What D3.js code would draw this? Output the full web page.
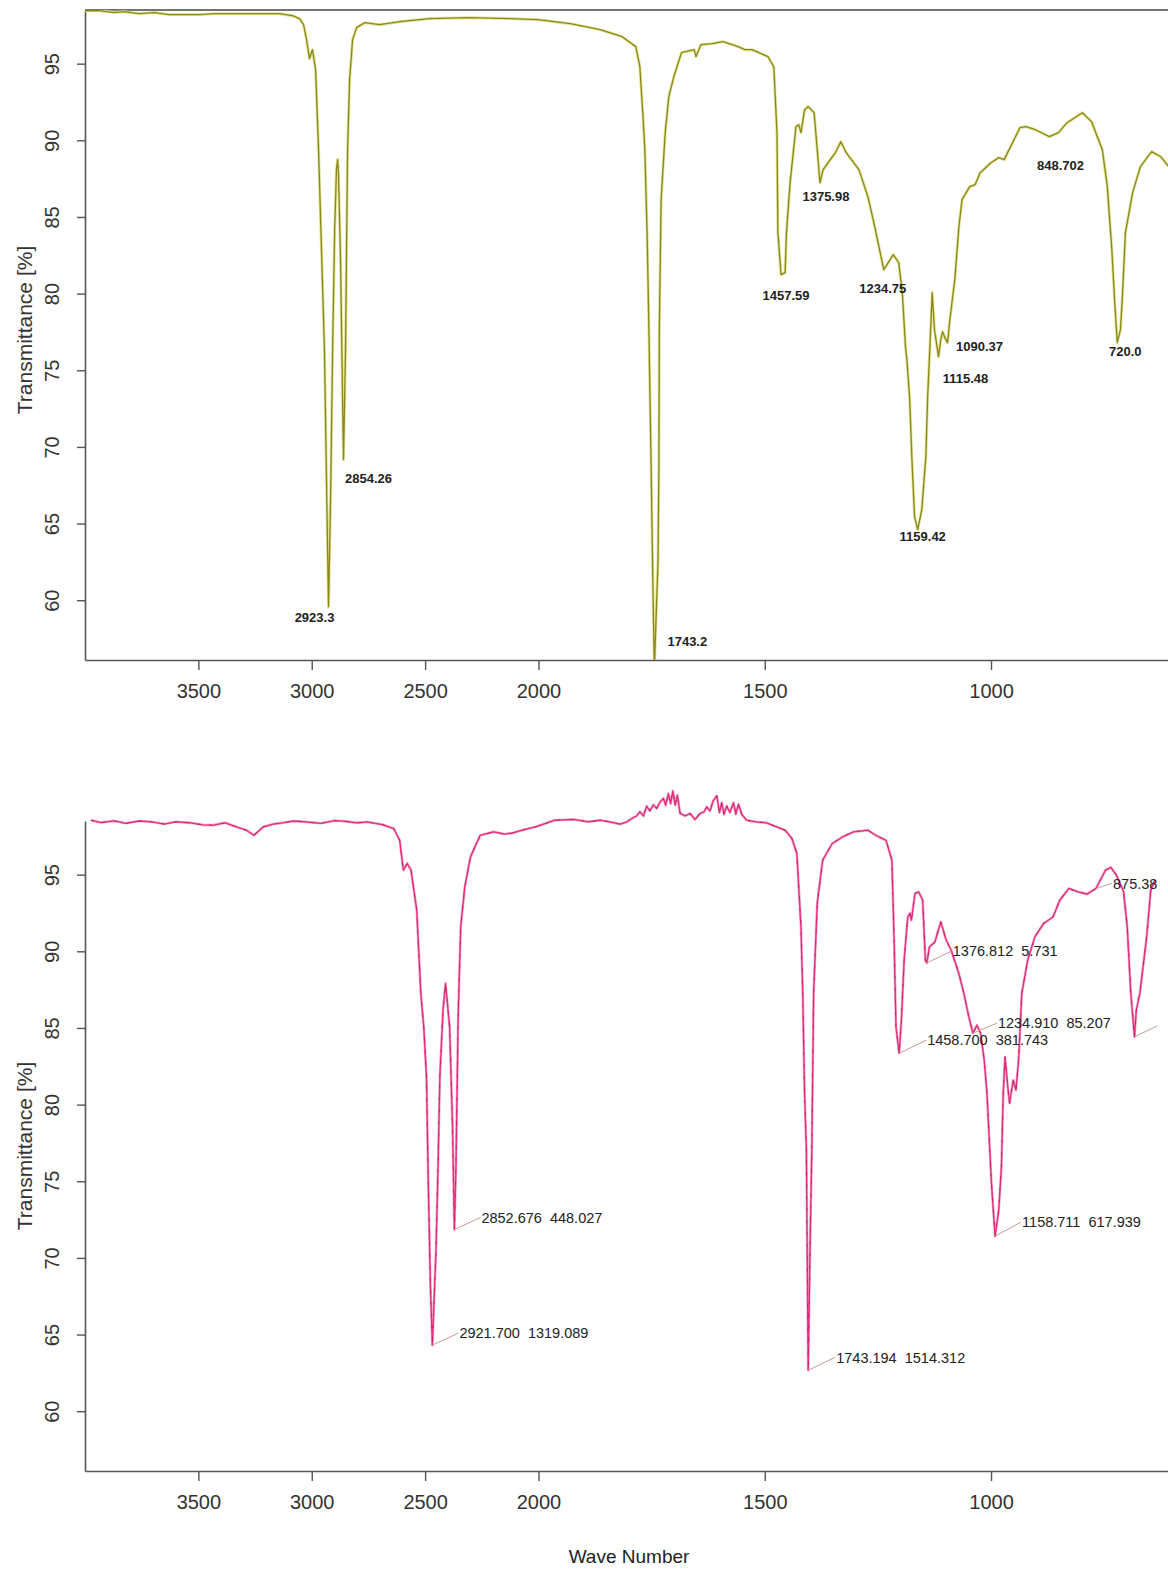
<!DOCTYPE html>
<html>
<head>
<meta charset="utf-8">
<script src="https://cdn.jsdelivr.net/npm/d3@7"></script>
<style>
  body { margin: 0; background: #fff; }
  svg { display: block; }
</style>
</head>
<body>
<div id="chart"></div>
<script>
// axis ticks
const xTicks = [3500, 3000, 2500, 2000, 1500, 1000];
const yTicks = [60, 65, 70, 75, 80, 85, 90, 95];
// wave number axis is stretched 2x below 2000
const xBreaks = [4000, 2000, 610];

// top spectrum: [wave number, transmittance %]
const topSpectrum = [
  [4000, 98.45], [3938, 98.46], [3872, 98.33], [3828, 98.39], [3761, 98.26], [3695, 98.33],
  [3629, 98.2], [3562, 98.2], [3496, 98.2], [3430, 98.26], [3319, 98.26], [3231, 98.26],
  [3143, 98.26], [3085, 98.13], [3054, 97.94], [3036, 97.54], [3023, 96.57], [3010, 95.33],
  [2997, 95.91], [2983, 94.61], [2970, 89.39], [2957, 82.87], [2944, 76.34], [2935, 67.86],
  [2926, 59.58], [2917, 66.56], [2908, 76.34], [2899, 84.17], [2891, 88.09], [2886, 88.74],
  [2882, 87.76], [2873, 82.21], [2864, 73.08], [2860, 69.17], [2851, 76.34], [2842, 89.39],
  [2833, 93.96], [2820, 96.57], [2802, 97.35], [2767, 97.67], [2701, 97.54], [2612, 97.74],
  [2480, 97.94], [2303, 98.0], [2126, 97.94], [2002, 97.87], [1930, 97.61], [1864, 97.22],
  [1815, 96.76], [1785, 96.11], [1776, 94.8], [1769, 91.54], [1765, 89.39], [1760, 83.98],
  [1756, 77.65], [1751, 68.52], [1748, 62.45], [1744, 55.5], [1736, 62.45], [1734, 68.52],
  [1733, 77.65], [1729, 86.13], [1720, 90.5], [1712, 92.85], [1701, 94.15], [1684, 95.72],
  [1656, 95.91], [1652, 95.46], [1641, 96.24], [1617, 96.3], [1592, 96.44], [1559, 96.11],
  [1544, 95.91], [1528, 95.91], [1513, 95.72], [1493, 95.46], [1480, 94.8], [1473, 90.5],
  [1471, 83.98], [1464, 81.24], [1455, 81.37], [1452, 83.98], [1444, 87.24], [1431, 90.89],
  [1425, 91.02], [1420, 90.5], [1412, 92.0], [1404, 92.2], [1391, 91.8], [1384, 89.39],
  [1378, 87.24], [1371, 88.09], [1360, 88.54], [1344, 89.19], [1332, 89.91], [1320, 89.19],
  [1292, 88.09], [1272, 86.32], [1257, 84.37], [1237, 81.56], [1216, 82.54], [1204, 82.02],
  [1196, 80.06], [1189, 76.54], [1186, 75.69], [1180, 73.28], [1175, 69.36], [1169, 65.45],
  [1162, 64.6], [1153, 65.91], [1144, 69.36], [1140, 73.28], [1135, 76.54], [1130, 80.06],
  [1125, 77.65], [1120, 76.67], [1116, 75.89], [1111, 77.0], [1107, 77.52], [1102, 77.13],
  [1096, 76.8], [1091, 78.3], [1080, 80.91], [1071, 84.37], [1064, 86.13], [1047, 86.98],
  [1035, 87.11], [1024, 87.89], [1000, 88.54], [983, 88.87], [971, 88.74], [960, 89.39],
  [936, 90.83], [923, 90.89], [902, 90.69], [871, 90.24], [851, 90.5], [832, 91.15],
  [798, 91.8], [778, 91.22], [754, 89.39], [743, 86.98], [733, 82.87], [727, 79.61],
  [721, 76.8], [714, 77.65], [710, 79.61], [703, 83.98], [687, 86.59], [670, 88.28],
  [645, 89.26], [625, 88.93], [607, 88.28]
];

// top peak labels: [text, wave number, transmittance]
const topPeaks = [
  ["2923.3", 2926, 59.58], ["2854.26", 2860, 69.17], ["1743.2", 1744, 56.12],
  ["1457.59", 1464, 81.24], ["1375.98", 1378, 87.24], ["1234.75", 1237, 81.56],
  ["1159.42", 1162, 64.6], ["1115.48", 1116, 75.89], ["1090.37", 1096, 76.8],
  ["848.702", 851, 90.5], ["720.0", 721, 76.8]
];
const topLabelOffsets = [
  [-14, 11], [25, 19], [33, -18], [5, 21], [6, 14], [-1, 19],
  [5, 7], [27, 22], [32, 4], [2, 33], [8, 9]
];

// bottom spectrum as it sits on its own axis: [wave number, transmittance %]
const bottomSpectrum = [
  [3974, 98.55], [3930, 98.4], [3873, 98.51], [3820, 98.35], [3760, 98.5], [3704, 98.44],
  [3650, 98.3], [3600, 98.45], [3536, 98.38], [3480, 98.25], [3434, 98.23], [3382, 98.38],
  [3333, 98.12], [3289, 97.9], [3255, 97.57], [3213, 98.12], [3170, 98.3], [3129, 98.38],
  [3080, 98.5], [3028, 98.44], [2960, 98.35], [2900, 98.52], [2858, 98.49], [2800, 98.38],
  [2756, 98.44], [2689, 98.27], [2639, 98.01], [2612, 97.24], [2596, 95.29], [2579, 95.73],
  [2562, 95.29], [2537, 92.68], [2519, 87.27], [2506, 85.07], [2494, 81.81], [2486, 74.87],
  [2477, 68.35], [2468, 64.31], [2452, 70.5], [2443, 75.94], [2435, 81.81], [2421, 86.16],
  [2410, 87.9], [2392, 85.07], [2379, 78.55], [2371, 71.85], [2364, 75.94], [2354, 85.96],
  [2343, 91.59], [2325, 94.2], [2300, 96.16], [2257, 97.57], [2198, 97.79], [2150, 97.65],
  [2114, 97.72], [2060, 97.95], [2012, 98.12], [1964, 98.55], [1922, 98.6], [1890, 98.45],
  [1864, 98.55], [1842, 98.44], [1820, 98.29], [1805, 98.44], [1794, 98.66], [1783, 98.83],
  [1776, 99.1], [1768, 98.83], [1761, 99.47], [1754, 99.16], [1746, 99.55], [1739, 99.32],
  [1731, 99.75], [1724, 99.97], [1719, 99.53], [1713, 100.29], [1708, 99.64], [1703, 100.46],
  [1698, 99.53], [1693, 100.18], [1687, 98.99], [1676, 98.83], [1665, 98.99], [1654, 98.6],
  [1643, 98.99], [1634, 99.1], [1628, 99.42], [1621, 99.16], [1614, 99.81], [1606, 100.14],
  [1600, 99.05], [1595, 99.7], [1590, 98.94], [1584, 99.48], [1577, 99.05], [1569, 99.7],
  [1564, 98.94], [1558, 99.59], [1551, 98.94], [1540, 98.55], [1518, 98.44], [1496, 98.38],
  [1474, 98.12], [1455, 97.9], [1440, 97.36], [1429, 96.38], [1420, 91.59], [1416, 87.27],
  [1412, 80.74], [1408, 77.03], [1404, 62.67], [1400, 70.5], [1396, 77.03], [1392, 87.27],
  [1384, 93.14], [1372, 95.94], [1351, 97.03], [1328, 97.46], [1304, 97.79], [1272, 97.9],
  [1255, 97.57], [1232, 97.24], [1219, 95.94], [1214, 90.53], [1210, 85.07], [1203, 83.35],
  [1198, 85.51], [1192, 89.42], [1184, 92.24], [1179, 92.47], [1176, 92.03], [1168, 93.77],
  [1160, 93.88], [1151, 93.33], [1145, 89.42], [1142, 89.24], [1136, 90.29], [1124, 90.61],
  [1111, 91.92], [1099, 90.72], [1088, 90.07], [1071, 88.55], [1060, 87.25], [1049, 85.72],
  [1040, 84.66], [1031, 85.18], [1023, 84.66], [1015, 82.9], [1009, 80.74], [999, 74.87],
  [991, 71.42], [983, 73.11], [977, 75.94], [973, 80.74], [969, 83.11], [963, 81.16],
  [959, 80.09], [951, 81.59], [945, 80.94], [939, 82.9], [932, 87.25], [919, 89.42],
  [903, 90.94], [884, 91.81], [863, 92.24], [848, 93.33], [828, 94.1], [808, 93.88],
  [788, 93.73], [768, 94.1], [747, 95.29], [735, 95.47], [723, 94.97], [707, 93.88],
  [699, 91.59], [691, 87.25], [683, 84.42], [679, 86.16], [671, 87.27], [656, 90.94],
  [647, 93.99], [638, 94.64]
];

// bottom peak labels: [text, wave number, transmittance]
const bottomPeaks = [
  ["2921.700  1319.089", 2468, 64.31], ["2852.676  448.027", 2371, 71.85],
  ["1743.194  1514.312", 1404, 62.67], ["1158.711  617.939", 991, 71.42],
  ["1458.700  381.743", 1203, 83.35], ["1234.910  85.207", 1040, 84.66],
  ["1376.812  5.731", 1142, 89.24], ["875.38", 768, 94.1], ["", 683, 84.42]
];
const bottomLeaderOffsets = [
  [26, -12], [26, -12], [27, -13], [26, -14], [27, -13], [24, -10], [25, -12], [16, -5], [23, -11]
];

const W = 1168, H = 1569;
const axisFont = "'Liberation Sans', Arial, sans-serif";

const svg = d3.select("#chart").append("svg")
    .attr("width", W)
    .attr("height", H);

const x = d3.scaleLinear().domain(xBreaks).range([85, 538.5, 1167.5]);

const panels = [
    { top: 10, bottom: 660, data: topSpectrum, labelY: 330, frame: true },
    { top: 821, bottom: 1471, data: bottomSpectrum, labelY: 1146, frame: false }
];

panels.forEach((p, i) => {
    const y = d3.scaleLinear().domain([56.1, 98.5]).range([p.bottom, p.top]);
    p.y = y;
    const g = svg.append("g");

    // x axis
    const gx = g.append("g")
        .attr("transform", `translate(0,${p.bottom})`)
        .call(d3.axisBottom(x).tickValues(xTicks).tickSize(10).tickSizeOuter(0)
            .tickPadding(14).tickFormat(d3.format("d")));
    gx.attr("font-size", 20).attr("font-family", axisFont);
    gx.select(".domain").attr("stroke", "#555").attr("stroke-width", 1.6);
    gx.selectAll(".tick line").attr("stroke", "#555").attr("stroke-width", 1.4);
    gx.selectAll(".tick text").attr("fill", "#333");

    // y axis, labels turned sideways
    const gy = g.append("g")
        .attr("transform", "translate(85,0)")
        .call(d3.axisLeft(y).tickValues(yTicks).tickSize(8).tickSizeOuter(0));
    gy.attr("font-size", 20).attr("font-family", axisFont);
    gy.select(".domain").attr("stroke", "#555").attr("stroke-width", 1.6);
    gy.selectAll(".tick line").attr("stroke", "#555").attr("stroke-width", 1.4);
    gy.selectAll(".tick text")
        .attr("fill", "#333")
        .attr("transform", "rotate(-90)")
        .attr("x", 0).attr("y", -26).attr("dy", 0)
        .attr("text-anchor", "middle");

    if (p.frame) {
        g.append("line")
            .attr("x1", 85).attr("x2", W)
            .attr("y1", p.top).attr("y2", p.top)
            .attr("stroke", "#444").attr("stroke-width", 1.6);
    }

    g.append("text")
        .attr("transform", `translate(32,${p.labelY}) rotate(-90)`)
        .attr("text-anchor", "middle")
        .attr("font-family", axisFont)
        .attr("font-size", 21)
        .attr("fill", "#333")
        .text("Transmittance [%]");

    // clip for the spectrum
    const clipId = "clip" + i;
    svg.append("clipPath").attr("id", clipId)
        .append("rect")
        .attr("x", 85).attr("y", i === 0 ? p.top : p.top - 40)
        .attr("width", i === 0 ? W - 85 : 1160 - 85)
        .attr("height", i === 0 ? p.bottom - p.top : p.bottom - p.top + 40);
    p.clip = `url(#${clipId})`;
});

const line = y => d3.line().x(d => x(d[0])).y(d => y(d[1]));

// top spectrum (olive)
const topP = panels[0];
const gTop = svg.append("g").attr("clip-path", topP.clip);
gTop.append("path")
    .datum(topP.data)
    .attr("fill", "none")
    .attr("stroke", "#e4e49a")
    .attr("stroke-width", 3)
    .attr("stroke-linejoin", "round")
    .attr("d", line(topP.y));
gTop.append("path")
    .datum(topP.data)
    .attr("fill", "none")
    .attr("stroke", "#8a881c")
    .attr("stroke-width", 1.3)
    .attr("stroke-linejoin", "round")
    .attr("d", line(topP.y));

svg.append("g").selectAll("text")
    .data(topPeaks)
    .join("text")
    .attr("x", (d, i) => x(d[1]) + topLabelOffsets[i][0])
    .attr("y", (d, i) => topP.y(d[2]) + topLabelOffsets[i][1])
    .attr("dy", "0.35em")
    .attr("text-anchor", "middle")
    .attr("font-family", axisFont)
    .attr("font-weight", "bold")
    .attr("font-size", 13)
    .attr("fill", "#222")
    .text(d => d[0]);

// bottom spectrum (pink)
const botP = panels[1];
const gBot = svg.append("g").attr("clip-path", botP.clip);
gBot.append("path")
    .datum(botP.data)
    .attr("fill", "none")
    .attr("stroke", "#f4a6c8")
    .attr("stroke-width", 2.6)
    .attr("stroke-linejoin", "round")
    .attr("d", line(botP.y));
gBot.append("path")
    .datum(botP.data)
    .attr("fill", "none")
    .attr("stroke", "#e5307e")
    .attr("stroke-width", 1.3)
    .attr("stroke-linejoin", "round")
    .attr("d", line(botP.y));
gBot.append("path")
    .datum(botP.data)
    .attr("fill", "none")
    .attr("stroke", "#9a1f55")
    .attr("stroke-width", 1)
    .attr("stroke-dasharray", "3,9")
    .attr("opacity", 0.6)
    .attr("d", line(botP.y));

// leader lines and peak labels
const ann = gBot.append("g");
ann.selectAll("line")
    .data(bottomPeaks)
    .join("line")
    .attr("x1", d => x(d[1]))
    .attr("y1", d => botP.y(d[2]))
    .attr("x2", (d, i) => x(d[1]) + bottomLeaderOffsets[i][0])
    .attr("y2", (d, i) => botP.y(d[2]) + bottomLeaderOffsets[i][1])
    .attr("stroke", "#c49a94")
    .attr("stroke-width", 1);
ann.selectAll("text")
    .data(bottomPeaks)
    .join("text")
    .attr("x", (d, i) => x(d[1]) + bottomLeaderOffsets[i][0] + 1)
    .attr("y", (d, i) => botP.y(d[2]) + bottomLeaderOffsets[i][1])
    .attr("dy", "0.36em")
    .attr("font-family", axisFont)
    .attr("font-size", 14.5)
    .attr("fill", "#222")
    .style("white-space", "pre")
    .text(d => d[0]);

svg.append("text")
    .attr("x", 629).attr("y", 1556)
    .attr("dy", "0.35em")
    .attr("text-anchor", "middle")
    .attr("font-family", axisFont)
    .attr("font-size", 19)
    .attr("fill", "#222")
    .text("Wave Number");
</script>
</body>
</html>
